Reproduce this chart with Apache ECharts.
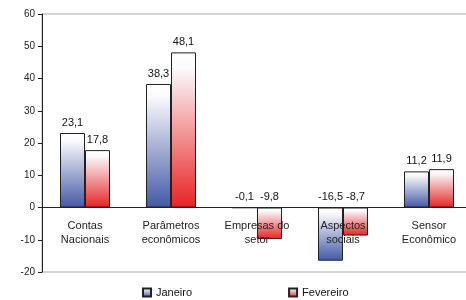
<!DOCTYPE html>
<html>
<head>
<meta charset="utf-8">
<script src="https://cdn.jsdelivr.net/npm/echarts@6/dist/echarts.min.js"></script>
<style>
  html, body { margin: 0; padding: 0; background: #fff; }
  #chart { width: 466px; height: 300px; }
</style>
</head>
<body>
<div id="chart"></div>
<script>
const categories = ["Contas\nNacionais", "Parâmetros\neconômicos", "Empresas do\nsetor", "Aspectos\nsociais", "Sensor\nEconômico"];
const janeiro = [23.1, 38.3, -0.1, -16.5, 11.2];
const fevereiro = [17.8, 48.1, -9.8, -8.7, 11.9];
const yTicks = [-20, 60, 10];

const font = "Liberation Sans, Arial, sans-serif";

function grad(color) {
  return new echarts.graphic.LinearGradient(0, 0, 0, 1, [
    { offset: 0, color: "#ffffff" },
    { offset: 0.1, color: "#fbfbfd" },
    { offset: 1, color: color },
  ]);
}

const fmt = (p) => String(p.value).replace(".", ",");

const chart = echarts.init(document.getElementById("chart"));
chart.setOption({
  animation: false,
  textStyle: { fontFamily: font },
  grid: {
    left: 42, right: -6, top: 14, bottom: 28,
    outerBoundsMode: "none", containLabel: false,
    show: true, borderColor: "#aaaaaa", borderWidth: 1,
  },
  legend: {
    top: 282, left: 137, itemGap: 96,
    itemWidth: 8, itemHeight: 8, icon: "rect",
    textStyle: { fontSize: 11, color: "#111", fontFamily: font },
    data: ["Janeiro", "Fevereiro"],
  },
  xAxis: {
    type: "category",
    data: categories,
    z: 10,
    offset: -64.5,
    axisLine: { onZero: false, lineStyle: { color: "#222" } },
    axisTick: { length: 4, lineStyle: { color: "#222" } },
    axisLabel: { fontSize: 11, color: "#222", lineHeight: 14, margin: 11, interval: 0 },
  },
  yAxis: {
    type: "value",
    min: yTicks[0], max: yTicks[1], interval: yTicks[2],
    axisLine: { show: true, lineStyle: { color: "#222" } },
    axisTick: { show: true, length: 4, lineStyle: { color: "#222" } },
    axisLabel: { fontSize: 10, color: "#222", margin: 7 },
    splitLine: { show: false },
  },
  series: [
    {
      name: "Janeiro", type: "bar", data: janeiro,
      barWidth: 25, barGap: "0%",
      itemStyle: { color: grad("#4358a8"), borderColor: "#222", borderWidth: 1 },
      label: { show: true, position: "top", fontSize: 11, color: "#111", formatter: fmt },
    },
    {
      name: "Fevereiro", type: "bar", data: fevereiro,
      barWidth: 25, barGap: "0%",
      itemStyle: { color: grad("#e82222"), borderColor: "#222", borderWidth: 1 },
      label: { show: true, position: "top", fontSize: 11, color: "#111", formatter: fmt },
    },
  ],
});
</script>
</body>
</html>
